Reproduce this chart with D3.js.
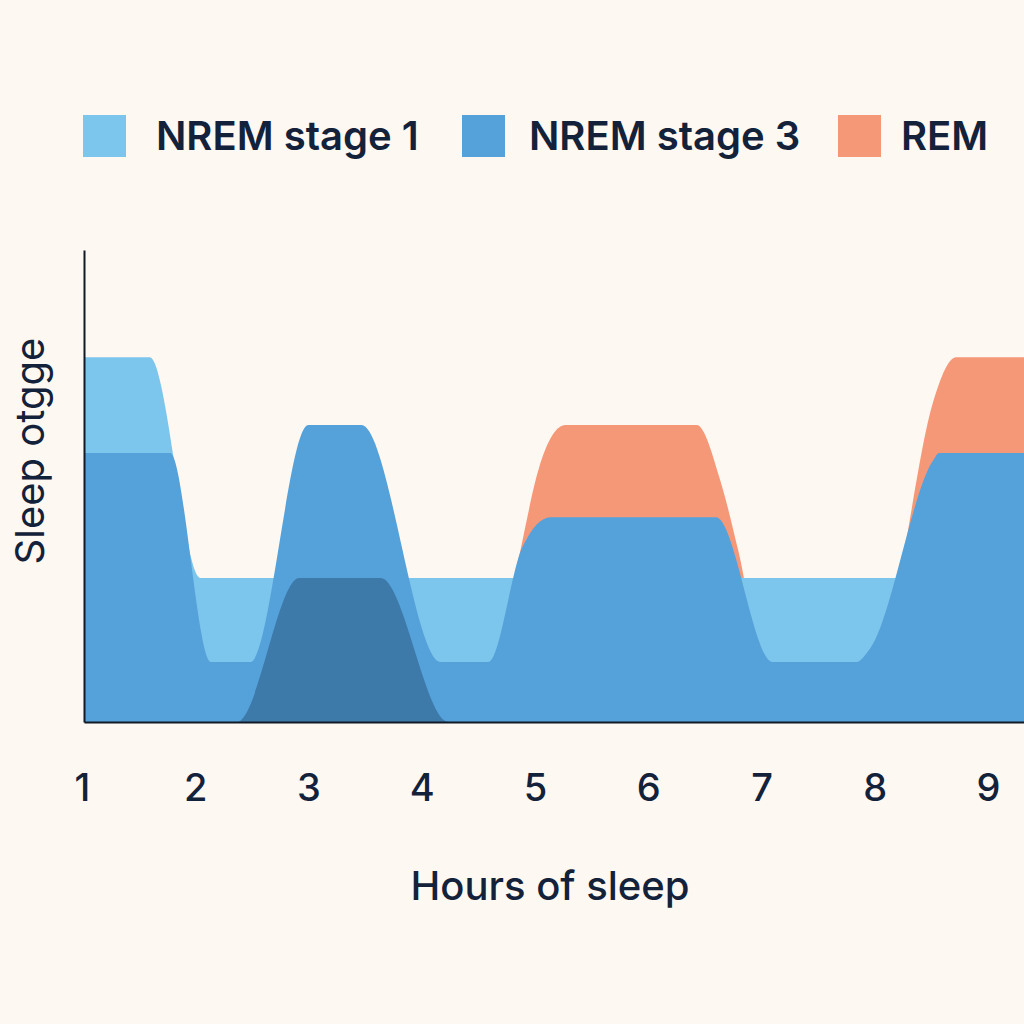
<!DOCTYPE html>
<meta charset="utf-8">
<style>
  body { margin: 0; background: #fdf8f1; }
  svg { display: block; background: #fdf8f1; font-family: 'Inter', 'Lato', sans-serif; }
  .axis path, .axis line { stroke: #111a26; stroke-width: 2px; }
  .axis text { fill: #13223a; font-size: 38px; font-weight: 500; font-family: 'Inter', sans-serif; }
  .legend text { fill: #13223a; font-size: 40px; font-weight: 600; }
</style>
<body>
<script src="https://d3js.org/d3.v7.min.js"></script>
<script>

// values (hours, sleep-stage depth 0-100)
var stage1Hours  = [1, 1.58, 2.03, 9.3];
var stage1Values = [77.3, 77.3, 30.5, 30.5];

var stage3Hours  = [1, 1.76, 2.12, 2.47, 2.98, 3.45, 4.15, 4.57, 4.87, 5.12, 6.58, 7.08, 7.82, 7.94, 8.5, 8.55, 9.3];
var stage3Values = [57, 57, 12.7, 12.7, 62.9, 62.9, 12.7, 12.7, 37, 43.4, 43.4, 12.7, 12.7, 15.5, 55.5, 57, 57];

var deepHours  = [1, 2.35, 2.9, 3.62, 4.22, 9.3];
var deepValues = [0, 0, 30.5, 30.5, 0, 0];

var remHours  = [1, 4.55, 4.85, 5.02, 5.25, 6.41, 6.62, 6.78, 7.1, 7.95, 8.2, 8.5, 8.7, 9.3];
var remValues = [0, 0, 36, 54, 62.9, 62.9, 51, 36, 0, 0, 30.5, 68, 77.3, 77.3];

var tickHours = [1, 2, 3, 4, 5, 6, 7, 8, 9];

var legendNames  = ["NREM stage 1", "NREM stage 3", "REM"];
var legendColors = ["#7cc5ec", "#55a1d9", "#f59878"];

var width = 1024, height = 1024;

var svg = d3.select("body")
  .append("svg")
    .attr("width", width)
    .attr("height", height);

var x = d3.scaleLinear()
  .domain([1, 9.3])
  .range([84, 1024]);

var y = d3.scaleLinear()
  .domain([0, 100])
  .range([722, 250]);

function zipped(hours, values) {
  return hours.map(function(h, i) { return {h: h, v: values[i]}; });
}

var area = d3.area()
  .curve(d3.curveMonotoneX)
  .x(function(d) { return x(d.h); })
  .y0(y(0))
  .y1(function(d) { return y(d.v); });

// back to front: REM, stage 1, stage 3, deep overlap
var layers = [
  {data: zipped(remHours, remValues), color: "#f59878"},
  {data: zipped(stage1Hours, stage1Values), color: "#7cc5ec"},
  {data: zipped(stage3Hours, stage3Values), color: "#55a1d9"},
  {data: zipped(deepHours, deepValues), color: "#3d7aaa"}
];

svg.selectAll("path.layer")
  .data(layers)
  .enter().append("path")
    .attr("class", "layer")
    .attr("fill", function(d) { return d.color; })
    .attr("d", function(d) { return area(d.data); });

// x axis
svg.append("g")
  .attr("class", "axis")
  .attr("transform", "translate(0," + y(0) + ")")
  .call(d3.axisBottom(x).tickValues(tickHours).tickSize(0).tickPadding(52).tickFormat(d3.format("d")))
  .call(function(g) { g.selectAll("text").attr("dx", "-2"); });

// y axis, no ticks
svg.append("g")
  .attr("class", "axis")
  .attr("transform", "translate(" + x(1) + ",0)")
  .call(d3.axisLeft(y).tickValues([]).tickSizeOuter(0));

svg.append("text")
  .attr("x", 550)
  .attr("y", 900)
  .attr("text-anchor", "middle")
  .style("font-size", "40px")
  .style("font-weight", 500)
  .style("fill", "#13223a")
  .text("Hours of sleep");

svg.append("text")
  .attr("transform", "translate(44,451) rotate(-90)")
  .attr("text-anchor", "middle")
  .style("font-size", "40px")
  .style("fill", "#13223a")
  .text("Sleep otgge");

// legend
var legendX = [83, 462, 838];
var legendGap = [73, 67, 63];
var legend = svg.append("g").attr("class", "legend");
legendNames.forEach(function(name, i) {
  legend.append("rect")
    .attr("x", legendX[i])
    .attr("y", 115)
    .attr("width", 43)
    .attr("height", 42)
    .attr("fill", legendColors[i]);
  legend.append("text")
    .attr("x", legendX[i] + legendGap[i])
    .attr("y", 150)
    .text(name);
});

</script>
</body>
